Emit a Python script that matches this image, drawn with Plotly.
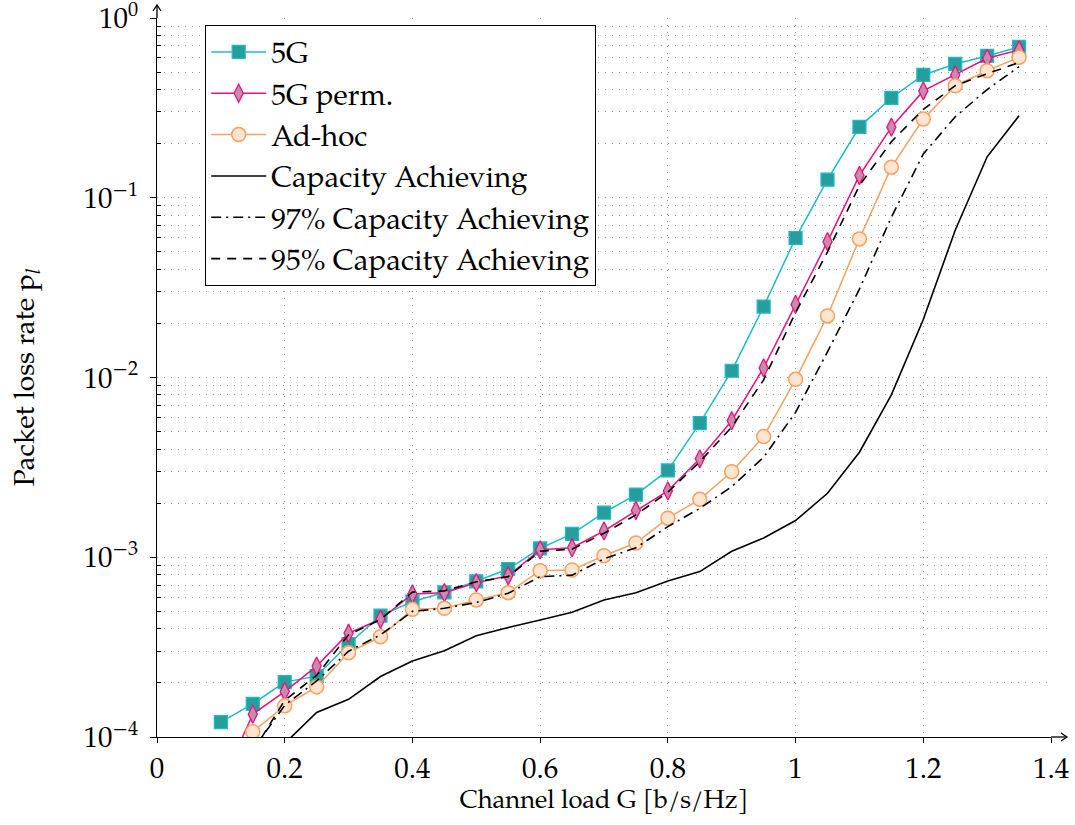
import plotly.graph_objects as go

# ---------------- data ----------------
x_5g = [0.10, 0.15, 0.20, 0.25, 0.30, 0.35, 0.40, 0.45, 0.50, 0.55, 0.60, 0.65, 0.70,
        0.75, 0.80, 0.85, 0.90, 0.95, 1.00, 1.05, 1.10, 1.15, 1.20, 1.25, 1.30, 1.35]
y_5g = [1.21e-4, 1.53e-4, 2.02e-4, 2.18e-4, 3.29e-4, 4.73e-4, 5.66e-4, 6.38e-4, 7.35e-4,
        8.6e-4, 1.12e-3, 1.35e-3, 1.77e-3, 2.23e-3, 3.04e-3, 5.57e-3, 1.09e-2, 2.48e-2,
        5.97e-2, 0.126, 0.248, 0.359, 0.482, 0.555, 0.615, 0.690]

x_perm = [0.10, 0.15, 0.20, 0.25, 0.30, 0.35, 0.40, 0.45, 0.50, 0.55, 0.60, 0.65, 0.70,
          0.75, 0.80, 0.85, 0.90, 0.95, 1.00, 1.05, 1.10, 1.15, 1.20, 1.25, 1.30, 1.35]
y_perm = [5.4e-5, 1.34e-4, 1.79e-4, 2.48e-4, 3.78e-4, 4.52e-4, 6.25e-4, 6.35e-4, 7.22e-4,
          7.89e-4, 1.10e-3, 1.13e-3, 1.40e-3, 1.82e-3, 2.34e-3, 3.53e-3, 5.75e-3, 1.13e-2,
          2.55e-2, 5.70e-2, 0.133, 0.247, 0.393, 0.482, 0.597, 0.664]

x_adhoc = [0.15, 0.20, 0.25, 0.30, 0.35, 0.40, 0.45, 0.50, 0.55, 0.60, 0.65, 0.70,
           0.75, 0.80, 0.85, 0.90, 0.95, 1.00, 1.05, 1.10, 1.15, 1.20, 1.25, 1.30, 1.35]
y_adhoc = [1.07e-4, 1.49e-4, 1.90e-4, 2.94e-4, 3.61e-4, 5.13e-4, 5.20e-4, 5.78e-4, 6.35e-4,
           8.42e-4, 8.49e-4, 1.02e-3, 1.20e-3, 1.65e-3, 2.10e-3, 2.99e-3, 4.69e-3, 9.77e-3,
           2.20e-2, 5.90e-2, 0.148, 0.274, 0.420, 0.509, 0.604]

x_cap = [0.20, 0.25, 0.30, 0.35, 0.40, 0.45, 0.50, 0.55, 0.60, 0.65, 0.70, 0.75, 0.80,
         0.85, 0.90, 0.95, 1.00, 1.05, 1.10, 1.15, 1.20, 1.25, 1.30, 1.35]
y_cap = [9.2e-5, 1.37e-4, 1.62e-4, 2.17e-4, 2.65e-4, 3.02e-4, 3.66e-4, 4.07e-4, 4.48e-4,
         4.94e-4, 5.78e-4, 6.35e-4, 7.38e-4, 8.32e-4, 1.08e-3, 1.28e-3, 1.60e-3, 2.27e-3,
         3.84e-3, 8.0e-3, 2.1e-2, 6.6e-2, 0.169, 0.286]

x_97 = [0.15, 0.20, 0.25, 0.30, 0.35, 0.40, 0.45, 0.50, 0.55, 0.60, 0.65, 0.70, 0.75,
        0.80, 0.85, 0.90, 0.95, 1.00, 1.05, 1.10, 1.15, 1.20, 1.25, 1.30, 1.35]
y_97 = [8.5e-5, 1.50e-4, 2.05e-4, 3.0e-4, 3.7e-4, 5.0e-4, 5.2e-4, 5.6e-4, 6.3e-4, 7.8e-4,
        7.95e-4, 9.8e-4, 1.13e-3, 1.48e-3, 1.87e-3, 2.47e-3, 3.6e-3, 6.4e-3, 1.39e-2,
        3.1e-2, 7.8e-2, 0.175, 0.282, 0.40, 0.536]

x_95 = [0.15, 0.20, 0.25, 0.30, 0.35, 0.40, 0.45, 0.50, 0.55, 0.60, 0.65, 0.70, 0.75,
        0.80, 0.85, 0.90, 0.95, 1.00, 1.05, 1.10, 1.15, 1.20, 1.25, 1.30, 1.35]
y_95 = [8.3e-5, 1.60e-4, 2.2e-4, 3.7e-4, 4.5e-4, 6.4e-4, 6.5e-4, 7.3e-4, 7.8e-4, 1.08e-3,
        1.11e-3, 1.36e-3, 1.72e-3, 2.3e-3, 3.4e-3, 5.3e-3, 9.7e-3, 2.3e-2, 5.0e-2, 0.117,
        0.205, 0.31, 0.42, 0.49, 0.565]

x_tickvals = [0, 0.2, 0.4, 0.6, 0.8, 1.0, 1.2, 1.4]
x_ticktext = ["0", "0.2", "0.4", "0.6", "0.8", "1", "1.2", "1.4"]
y_tickvals = [1e-4, 1e-3, 1e-2, 1e-1, 1e0]
y_ticktext = ["10<sup>−4</sup>", "10<sup>−3</sup>", "10<sup>−2</sup>", "10<sup>−1</sup>", "10<sup>0</sup>"]
y_minor = [m * 10 ** e for e in (-4, -3, -2, -1) for m in range(2, 10)]

FONT = "P052, 'TeX Gyre Pagella', 'URW Palladio L', Palatino, 'Palatino Linotype', 'Liberation Serif', serif"

W, H = 1075, 825
ML, MR, MT, MB = 157, 24, 18, 88
PW, PH = W - ML - MR, H - MT - MB

fig = go.Figure()
fig.add_trace(go.Scatter(
    x=x_5g, y=y_5g, mode="lines+markers", name="5G",
    line=dict(color="#1BBCC6", width=1.5),
    marker=dict(symbol="square", size=13, color="#279E9E", line=dict(color="#1BBCC6", width=1.2))))
fig.add_trace(go.Scatter(
    x=x_perm, y=y_perm, mode="lines+markers", name="5G perm.",
    line=dict(color="#E8137F", width=1.5),
    marker=dict(symbol="diamond-tall", size=13, color="#C98AAE", line=dict(color="#E8137F", width=1.3))))
fig.add_trace(go.Scatter(
    x=x_adhoc, y=y_adhoc, mode="lines+markers", name="Ad-hoc",
    line=dict(color="#F7A060", width=1.5),
    marker=dict(symbol="circle", size=14, color="#FFE4CF", line=dict(color="#F7A060", width=1.5))))
fig.add_trace(go.Scatter(
    x=x_cap, y=y_cap, mode="lines", name="Capacity Achieving",
    line=dict(color="black", width=1.6)))
fig.add_trace(go.Scatter(
    x=x_97, y=y_97, mode="lines", name="97% Capacity Achieving",
    line=dict(color="black", width=1.6, dash="10px,5px,2px,5px")))
fig.add_trace(go.Scatter(
    x=x_95, y=y_95, mode="lines", name="95% Capacity Achieving",
    line=dict(color="black", width=1.6, dash="9px,7px")))

grid = dict(showgrid=True, gridcolor="#9a9a9a", gridwidth=1, griddash="1px,6px")

fig.update_xaxes(
    range=[0, 1.4], tickvals=x_tickvals, ticktext=x_ticktext, automargin=False,
    ticklabeloverflow="allow",
    showline=True, linecolor="black", linewidth=1.3,
    ticks="outside", ticklen=5, tickcolor="black",
    zeroline=False, tickfont=dict(family=FONT, size=29, color="black"),
    title=dict(text="Channel load G [b/s/Hz]", font=dict(family=FONT, size=25.5, color="black"), standoff=5),
    **grid)
fig.update_yaxes(
    type="log", range=[-4, 0], tickvals=y_tickvals, ticktext=y_ticktext, automargin=False,
    ticklabeloverflow="allow",
    showline=True, linecolor="black", linewidth=1.3,
    ticks="outside", ticklen=6, tickcolor="black", ticklabelstandoff=6,
    tickfont=dict(family=FONT, size=29, color="black"),
    title=dict(text="Packet loss rate p<sub><i>l</i></sub>", font=dict(family=FONT, size=28, color="black"), standoff=40),
    minor=dict(tickvals=y_minor, ticks="inside", ticklen=4, tickcolor="black",
               showgrid=True, gridcolor="#9a9a9a", gridwidth=1, griddash="1px,6px"),
    **grid)

# axis arrows (pgfplots style "->")
px_x, px_y = 1.0 / PW, 1.0 / PH
x_tip = 1 + 16 * px_x
y_tip = 1 + 13 * px_y
arrow_style = dict(color="black", width=1.3)
fig.add_shape(type="line", xref="paper", yref="paper", x0=1, y0=0, x1=x_tip, y1=0, line=arrow_style)
fig.add_shape(type="path", xref="paper", yref="paper",
              path=f"M {x_tip - 6*px_x} {4*px_y} L {x_tip} 0 L {x_tip - 6*px_x} {-4*px_y}",
              line=arrow_style)
fig.add_shape(type="line", xref="paper", yref="paper", x0=0, y0=1, x1=0, y1=y_tip, line=arrow_style)
fig.add_shape(type="path", xref="paper", yref="paper",
              path=f"M {-4*px_x} {y_tip - 6*px_y} L 0 {y_tip} L {4*px_x} {y_tip - 6*px_y}",
              line=arrow_style)

fig.update_layout(
    width=W, height=H,
    margin=dict(l=ML, r=MR, t=MT, b=MB),
    plot_bgcolor="white", paper_bgcolor="white",
    font=dict(family=FONT, color="black"),
    showlegend=True,
    legend=dict(x=48 / PW, y=1 - 7 / PH, xanchor="left", yanchor="top",
                bgcolor="white", bordercolor="black", borderwidth=1.2,
                font=dict(family=FONT, size=29.5, color="black"),
                itemwidth=55, tracegroupgap=0),
)

# remove the browser's default 8px body margin so the figure fills the window exactly
fig.write_html("out.html",
               config={"displayModeBar": False},
               post_script="document.body.style.margin='0';document.body.style.overflow='hidden';")
